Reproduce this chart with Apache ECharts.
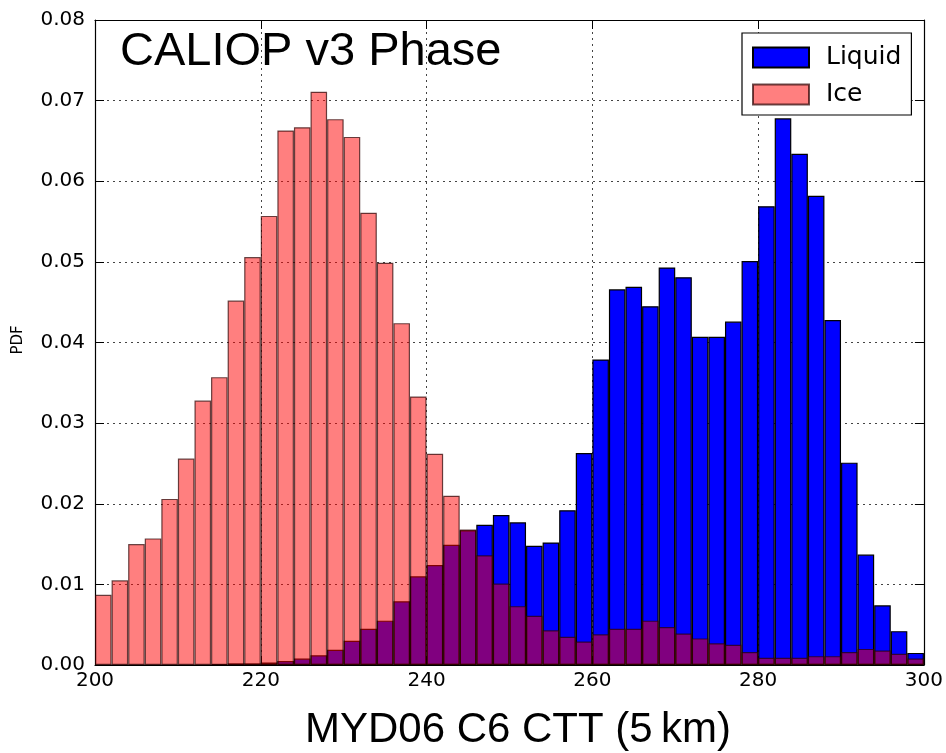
<!DOCTYPE html>
<html>
<head>
<meta charset="utf-8">
<script src="https://cdn.jsdelivr.net/npm/echarts@6/dist/echarts.min.js"></script>
<style>html,body{margin:0;padding:0;background:#fff;}#c{width:946px;height:753px;}</style>
</head>
<body>
<div id="c"></div>
<script>
// Bin start temperatures (K), bins 2 K wide from 200 to 300
const binStarts = [200,202,204,206,208,210,212,214,216,218,220,222,224,226,228,230,232,234,236,238,240,242,244,246,248,250,252,254,256,258,260,262,264,266,268,270,272,274,276,278,280,282,284,286,288,290,292,294,296,298];
const liquidPDF = [0,0,0,0,0,0,0,0.0001,0.0002,0.0002,0.0003,0.0005,0.0008,0.0012,0.0019,0.0030,0.0045,0.0055,0.0079,0.0110,0.0124,0.0149,0.0167,
  0.0174,0.0186,0.0177,0.0148,0.0152,0.0192,0.0263,0.0379,0.0466,0.0469,0.0445,0.0493,0.0481,0.0407,0.0407,0.0426,0.0501,0.0569,0.0678,0.0634,0.0582,0.0428,0.0251,0.0137,0.0074,0.0042,0.0015];
const icePDF = [0.0087,0.0105,0.0150,0.0157,0.0206,0.0256,0.0328,0.0357,0.0452,0.0506,0.0557,0.0663,0.0667,0.0711,0.0677,0.0655,0.0561,0.0499,0.0424,0.0333,0.0262,0.0210,0.0168,
  0.0136,0.0101,0.0073,0.0061,0.0043,0.0035,0.0029,0.0038,0.0045,0.0045,0.0055,0.0047,0.0039,0.0033,0.0027,0.0025,0.0016,0.0009,0.0009,0.0009,0.0011,0.0011,0.0016,0.0020,0.0018,0.0014,0.0008];
const xTicks = [200,220,240,260,280,300];
const yTicks = [0,0.01,0.02,0.03,0.04,0.05,0.06,0.07,0.08];
const titleText = 'CALIOP v3 Phase';
const xTitle = 'MYD06 C6 CTT (5\u2009km)';
const yTitle = 'PDF';

const chart = echarts.init(document.getElementById('c'), null, {renderer:'canvas'});
const tickFont = {fontFamily:'DejaVu Sans', fontSize:20, color:'#000'};
const grid = {left:95, right:16, top:20, bottom:88};
const dotted = {show:true, lineStyle:{color:'#444', type:[2,4], width:1}};
chart.setOption({
  backgroundColor:'#fff',
  animation:false,
  grid: grid,
  legend: {
    orient:'vertical', left:742, top:33,
    backgroundColor:'#fff', borderColor:'#000', borderWidth:1.2, borderRadius:0,
    padding:[12,10,8,10], itemWidth:56, itemHeight:20, itemGap:12,
    textStyle:{fontFamily:'DejaVu Sans', fontSize:25, color:'#000', lineHeight:20, padding:[0,0,0,12]},
    data:[{name:'Liquid', icon:'rect'},{name:'Ice', icon:'rect'}]
  },
  xAxis: [
    {type:'category', data:binStarts.map(String), show:false, boundaryGap:true},
    {type:'value', min:xTicks[0], max:xTicks[xTicks.length-1], interval:20, position:'bottom',
     axisLine:{show:true, onZero:false, lineStyle:{color:'#000', width:1.2}},
     axisTick:{show:true, inside:true, length:9, lineStyle:{color:'#000'}},
     axisLabel:{...tickFont, margin:6}, splitLine:dotted},
    {type:'value', min:xTicks[0], max:xTicks[xTicks.length-1], interval:20, position:'top',
     axisLine:{show:true, onZero:false, lineStyle:{color:'#000', width:1.2}},
     axisTick:{show:true, inside:true, length:9, lineStyle:{color:'#000'}},
     axisLabel:{show:false}, splitLine:{show:false}}
  ],
  yAxis: [
    {type:'value', min:yTicks[0], max:yTicks[yTicks.length-1], interval:0.01,
     axisLine:{show:true, onZero:false, lineStyle:{color:'#000', width:1.2}},
     axisTick:{show:true, inside:true, length:9, lineStyle:{color:'#000'}},
     axisLabel:{...tickFont, margin:10, formatter:v=>v.toFixed(2)}, splitLine:dotted},
    {type:'value', min:yTicks[0], max:yTicks[yTicks.length-1], interval:0.01, position:'right',
     axisLine:{show:true, onZero:false, lineStyle:{color:'#000', width:1.2}},
     axisTick:{show:true, inside:true, length:9, lineStyle:{color:'#000'}},
     axisLabel:{show:false}, splitLine:{show:false}}
  ],
  series: [
    {name:'Liquid', type:'bar', xAxisIndex:0, yAxisIndex:0, data:liquidPDF,
     barCategoryGap:0, barGap:'-100%',
     itemStyle:{color:'#0000ff', borderColor:'#000', borderWidth:1.2}},
    {name:'Ice', type:'bar', xAxisIndex:0, yAxisIndex:0, data:icePDF,
     barCategoryGap:0, barGap:'-100%',
     itemStyle:{color:'rgba(255,0,0,0.5)', borderColor:'rgba(40,0,0,0.7)', borderWidth:1.2}}
  ],
  graphic: [
    {type:'text', x:120, y:52, style:{text:titleText, font:'47px "Liberation Sans"', fill:'#000', verticalAlign:'middle', align:'left'}, z:100},
    {type:'text', x:518, y:730, style:{text:xTitle, font:'42px "Liberation Sans"', fill:'#000', verticalAlign:'middle', align:'center'}},
    {type:'text', x:18, y:340, rotation:Math.PI/2, style:{text:yTitle, font:'15px "DejaVu Sans"', fill:'#000', verticalAlign:'middle', align:'center'}}
  ]
});
</script>
</body>
</html>
